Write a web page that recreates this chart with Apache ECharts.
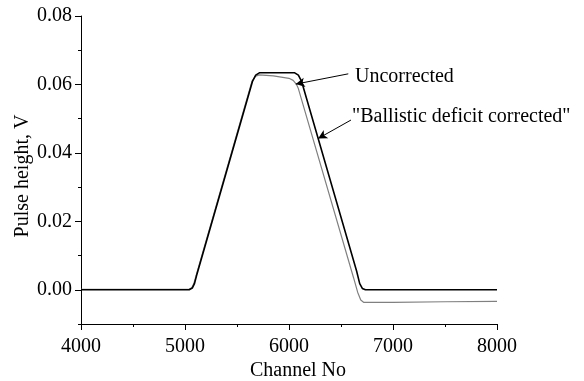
<!DOCTYPE html>
<html>
<head>
<meta charset="utf-8">
<script src="https://cdn.jsdelivr.net/npm/echarts@6/dist/echarts.min.js"></script>
<style>html,body{margin:0;padding:0;background:#fff}#c{width:584px;height:381px}</style>
</head>
<body>
<div id="c"></div>
<script>
// Uncorrected (black)
const uncorrected = [
  [4000, 0.0000], [5000, 0.0000], [5040, 0.0000], [5070, 0.0005], [5090, 0.0017], [5110, 0.0040],
  [5650, 0.0610], [5680, 0.0627], [5715, 0.0634], [6055, 0.0634], [6090, 0.0627], [6120, 0.0610],
  [6650, 0.0055], [6680, 0.0018], [6705, 0.0004], [6735, 0.0000], [7500, 0.0000], [8000, 0.0000]
];
// "Ballistic deficit corrected" (grey)
const corrected = [
  [4000, 0.0001], [5000, 0.0001], [5035, 0.0001], [5065, 0.0006], [5085, 0.0018], [5105, 0.0040],
  [5645, 0.0610], [5675, 0.0623], [5712, 0.0628], [5850, 0.0625], [6000, 0.0618], [6040, 0.0612],
  [6070, 0.0601], [6090, 0.0588], [6620, 0.0036], [6660, -0.0007], [6690, -0.0030], [6720, -0.0037],
  [7000, -0.0037], [7500, -0.0035], [8000, -0.0034]
];
const yMajorTicks = [0, 0.02, 0.04, 0.06, 0.08];
const annotations = [
  { text: 'Uncorrected', textAt: [6635, 0.0622], from: [6570, 0.0631], to: [6065, 0.0601] },
  { text: '"Ballistic deficit corrected"', textAt: [6606, 0.0505], from: [6596, 0.0496], to: [6280, 0.0442] }
];

const font = 'Liberation Serif';
const chart = echarts.init(document.getElementById('c'));
const axisCommon = {
  axisLine: { show: true, onZero: false, lineStyle: { color: '#000', width: 1 } },
  splitLine: { show: false }
};
chart.setOption({
  animation: false,
  backgroundColor: '#fff',
  grid: { left: 81, right: 87, top: 16, bottom: 57, containLabel: false, outerBoundsMode: 'none' },
  xAxis: {
    type: 'value', min: 4000, max: 8000, interval: 1000,
    name: 'Channel No', nameLocation: 'middle', nameGap: 37, nameMoveOverlap: false,
    nameTextStyle: { fontFamily: font, fontSize: 20, color: '#000', padding: [0, 0, 0, 18] },
    ...axisCommon,
    axisTick: { show: true, inside: false, length: 6, lineStyle: { color: '#000' } },
    minorTick: { show: true, splitNumber: 2, length: 3, lineStyle: { color: '#000' } },
    axisLabel: { fontFamily: font, fontSize: 20, color: '#000', margin: 13, formatter: v => String(v) }
  },
  yAxis: [{
    type: 'value', min: -0.01, max: 0.08,
    name: 'Pulse height, V', nameLocation: 'middle', nameGap: 48, nameRotate: 90, nameMoveOverlap: false,
    nameTextStyle: { fontFamily: font, fontSize: 20, color: '#000', padding: [0, 12, 0, 0] },
    ...axisCommon,
    axisTick: { show: true, inside: false, length: 6, customValues: yMajorTicks, lineStyle: { color: '#000' } },
    axisLabel: { fontFamily: font, fontSize: 20, color: '#000', margin: 9, customValues: yMajorTicks,
      formatter: v => v.toFixed(2) }
  }, {
    type: 'value', min: -0.01, max: 0.08, interval: 0.01, position: 'left',
    axisLine: { show: false }, splitLine: { show: false }, axisLabel: { show: false },
    axisTick: { show: true, inside: false, length: 3, lineStyle: { color: '#000' } }
  }],
  series: [{
    type: 'line', data: corrected, showSymbol: false, smooth: false, z: 2,
    lineStyle: { color: '#808080', width: 1.2 }
  }, {
    type: 'line', data: uncorrected, showSymbol: false, smooth: false, z: 3,
    lineStyle: { color: '#000', width: 1.6 },
    markLine: {
      silent: true, animation: false, symbol: ['none', 'arrow'], symbolSize: [7, 9],
      label: { show: false },
      lineStyle: { color: '#000', width: 1, type: 'solid' },
      data: annotations.map(a => [{ coord: a.from }, { coord: a.to }])
    }
  }]
});
const texts = annotations.map(a => {
  const p = chart.convertToPixel({ gridIndex: 0 }, a.textAt);
  return { type: 'text', x: p[0], y: p[1],
    style: { text: a.text, font: '20px "' + font + '"', fill: '#000', verticalAlign: 'middle', align: 'left' } };
});
chart.setOption({ graphic: texts });
</script>
</body>
</html>
